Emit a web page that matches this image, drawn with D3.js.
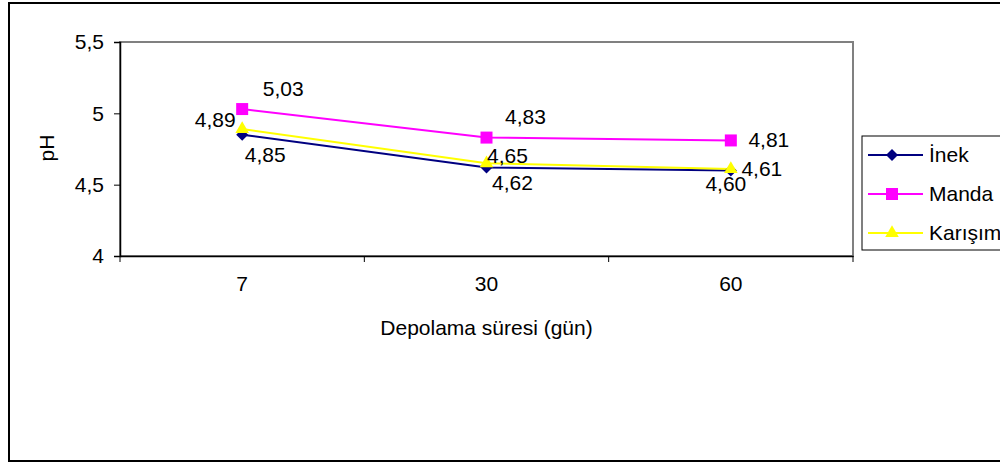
<!DOCTYPE html>
<html>
<head>
<meta charset="utf-8">
<script src="https://cdn.jsdelivr.net/npm/d3@7"></script>
<style>
  html, body { margin: 0; padding: 0; background: #fff; }
  svg { display: block; font-family: "Liberation Sans", Arial, sans-serif; }
</style>
</head>
<body>
<svg id="chart" width="1000" height="465"></svg>
<script>
// Storage time categories (days)
const days = ["7", "30", "60"];
// pH values per milk type
const inek = [4.85, 4.62, 4.60];
const manda = [5.03, 4.83, 4.81];
const karisim = [4.89, 4.65, 4.61];
const yTicks = [4, 4.5, 5, 5.5];
const seriesNames = ["İnek", "Manda", "Karışım"];

const FS = 21;
const svg = d3.select("#chart");
const fmt = v => d3.format(".2f")(v).replace(".", ",");
const fmtTick = v => String(v).replace(".", ",");

// Outer chart frame
svg.append("rect").attr("x", 9).attr("y", 3).attr("width", 1000).attr("height", 458)
  .attr("fill", "#fff").attr("stroke", "#000").attr("stroke-width", 2);

const plot = { left: 120, right: 853, top: 42, bottom: 256 };

const x = d3.scaleBand().domain(days).range([plot.left, plot.right]);
const y = d3.scaleLinear().domain([4, 5.5]).range([plot.bottom, plot.top]);

// Plot area border
svg.append("rect").attr("x", plot.left).attr("y", plot.top)
  .attr("width", plot.right - plot.left).attr("height", plot.bottom - plot.top)
  .attr("fill", "none").attr("stroke", "#808080").attr("stroke-width", 2);

// Y axis
const yAxis = svg.append("g").attr("transform", `translate(${plot.left},0)`)
  .call(d3.axisLeft(y).tickValues(yTicks).tickFormat(fmtTick).tickSize(6).tickPadding(10));
yAxis.select(".domain").attr("stroke", "#000").attr("stroke-width", 1.5);
yAxis.selectAll("line").attr("stroke", "#000");
yAxis.selectAll("text").attr("font-size", FS).attr("fill", "#000")
  .attr("font-family", "Liberation Sans, Arial, sans-serif");

// X axis with ticks at band boundaries
const xAxis = svg.append("g").attr("transform", `translate(0,${plot.bottom})`)
  .call(d3.axisBottom(x).tickSize(0).tickPadding(20));
xAxis.select(".domain").attr("stroke", "#000").attr("stroke-width", 1.5);
xAxis.selectAll("text").attr("font-size", FS).attr("fill", "#000")
  .attr("font-family", "Liberation Sans, Arial, sans-serif");
const bounds = days.map(d => x(d)).concat([x(days[days.length - 1]) + x.bandwidth()]);
svg.append("g").selectAll("line").data(bounds).join("line")
  .attr("x1", d => d).attr("x2", d => d)
  .attr("y1", plot.bottom).attr("y2", plot.bottom + 6)
  .attr("stroke", "#000").attr("stroke-width", 1);

// Axis titles
svg.append("text").attr("transform", "translate(47,148) rotate(-90)")
  .attr("text-anchor", "middle").attr("dy", "0.35em").attr("font-size", FS).text("pH");
svg.append("text").attr("x", (plot.left + plot.right) / 2).attr("y", 328)
  .attr("text-anchor", "middle").attr("dy", "0.35em").attr("font-size", FS).text("Depolama süresi (gün)");

const cx = d => x(d) + x.bandwidth() / 2;
const diamond = {
  draw(ctx, size) {
    const r = Math.sqrt(size / 2);
    ctx.moveTo(0, -r); ctx.lineTo(r, 0); ctx.lineTo(0, r); ctx.lineTo(-r, 0); ctx.closePath();
  }
};
const series = [
  { name: seriesNames[0], values: inek, color: "#000080", shape: diamond, size: 72,
    offsets: [[23, 20], [26, 15], [-5, 13]] },
  { name: seriesNames[1], values: manda, color: "#FF00FF", shape: d3.symbolSquare, size: 144,
    offsets: [[41, -20], [39, -21], [38, -1]] },
  { name: seriesNames[2], values: karisim, color: "#FFFF00", shape: d3.symbolTriangle, size: 80,
    offsets: [[-27, -9], [21, -8], [31, 0]] }
];

const line = d3.line().x((v, i) => cx(days[i])).y(v => y(v));

series.forEach(s => {
  svg.append("path").datum(s.values).attr("d", line)
    .attr("fill", "none").attr("stroke", s.color).attr("stroke-width", 2);
});
series.forEach(s => {
  svg.append("g").selectAll("path").data(s.values).join("path")
    .attr("transform", (v, i) => `translate(${cx(days[i])},${y(v)})`)
    .attr("d", d3.symbol(s.shape, s.size)).attr("fill", s.color);
});
series.forEach(s => {
  svg.append("g").selectAll("text").data(s.values).join("text")
    .attr("x", (v, i) => cx(days[i]) + s.offsets[i][0])
    .attr("y", (v, i) => y(v) + s.offsets[i][1])
    .attr("dy", "0.35em")
    .attr("text-anchor", "middle").attr("font-size", FS).attr("fill", "#000")
    .text(fmt);
});

// Legend
const lg = svg.append("g");
lg.append("rect").attr("x", 862).attr("y", 136).attr("width", 160).attr("height", 114)
  .attr("fill", "#fff").attr("stroke", "#000").attr("stroke-width", 1);
series.forEach((s, i) => {
  const ly = 155 + i * 39;
  lg.append("line").attr("x1", 868).attr("x2", 923).attr("y1", ly).attr("y2", ly)
    .attr("stroke", s.color).attr("stroke-width", 2);
  lg.append("path").attr("transform", `translate(892,${ly})`)
    .attr("d", d3.symbol(s.shape, s.size)).attr("fill", s.color);
  lg.append("text").attr("x", 929).attr("y", ly).attr("dy", "0.35em").attr("font-size", FS).text(s.name);
});
</script>
</body>
</html>
